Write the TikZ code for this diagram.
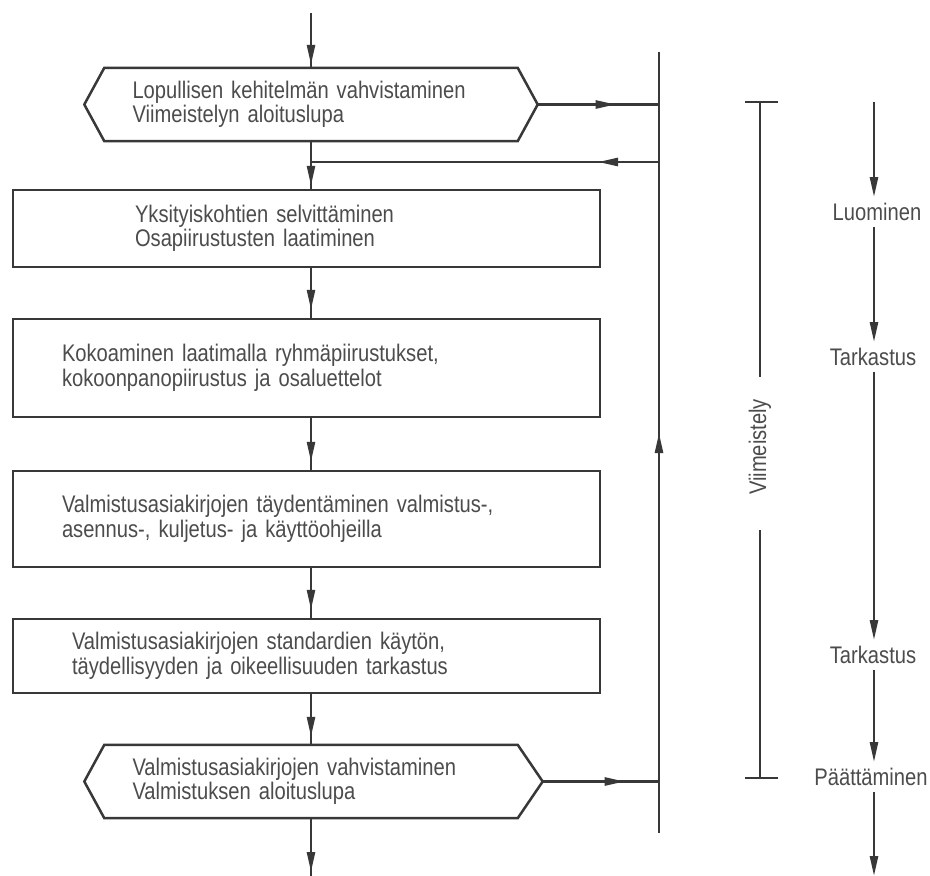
\documentclass[tikz,border=0pt]{standalone}
\usepackage{fontspec}
\setmainfont{Liberation Sans}[FakeStretch=0.84]
\usetikzlibrary{arrows.meta,decorations.markings}
\definecolor{ink}{HTML}{383838}
\definecolor{txt}{HTML}{4C4C4C}
\begin{document}
\begin{tikzpicture}[x=1pt,y=-1pt,
  line/.style={draw=ink,line width=2.5pt},
  tipat/.style={postaction={decorate},decoration={markings,
      mark=at position #1 with {\arrow[ink]{Triangle[length=20pt,width=8pt]}}}},
  endtip/.style={-{Triangle[length=20pt,width=8pt]}},
  lbl/.style={font=\fontsize{24}{24.5}\selectfont,text=txt},
  stepbox/.style={lbl,draw=ink,line width=2.5pt,rectangle,minimum width=587pt,
      align=left,inner ysep=0pt},
  hexbox/.style={lbl,rectangle,minimum width=413pt,minimum height=73pt,
      inner xsep=28pt,text width=357pt,align=left,inner ysep=0pt},
  tag/.style={lbl,inner sep=0pt,outer sep=6pt,text height=17pt,text depth=1pt}
]
\fill[white] (0,0) rectangle (930,876);
\useasboundingbox (0,0) rectangle (930,876);

% main column
\node[hexbox] (h1) at (311,104.5) {Lopullisen kehitelmän vahvistaminen\\Viimeistelyn aloituslupa};
\node[stepbox,minimum height=77pt,inner xsep=122pt,text width=343pt] (b1) at (306.5,228.5)
  {\raisebox{-5pt}{Yksityiskohtien selvittäminen}\\\raisebox{-5pt}{Osapiirustusten laatiminen}};
\node[stepbox,minimum height=98pt,inner xsep=49pt,text width=489pt] (b2) at (306.5,368)
  {Kokoaminen laatimalla ryhmäpiirustukset,\\kokoonpanopiirustus ja osaluettelot};
\node[stepbox,minimum height=96pt,inner xsep=49pt,text width=489pt] (b3) at (306.5,519)
  {Valmistusasiakirjojen täydentäminen valmistus-,\\asennus-, kuljetus- ja käyttöohjeilla};
\node[stepbox,minimum height=74pt,inner xsep=59pt,text width=469pt] (b4) at (306.5,656)
  {Valmistusasiakirjojen standardien käytön,\\täydellisyyden ja oikeellisuuden tarkastus};
\node[hexbox] (h2) at (311,781.5) {Valmistusasiakirjojen vahvistaminen\\Valmistuksen aloituslupa};

% hexagon outlines
\coordinate (h1l) at ([xshift=-20pt]h1.west);
\coordinate (h1r) at ([xshift=20pt]h1.east);
\coordinate (h2l) at ([xshift=-20pt]h2.west);
\coordinate (h2r) at ([xshift=25pt]h2.east);
\draw[line] (h1.north west) -- (h1.north east) -- (h1r) -- (h1.south east)
  -- (h1.south west) -- (h1l) -- cycle;
\draw[line] (h2.north west) -- (h2.north east) -- (h2r) -- (h2.south east)
  -- (h2.south west) -- (h2l) -- cycle;

% connectors
\coordinate (entry) at (311,13);
\coordinate (exit) at (311,876);
\coordinate (mtop) at (659,52);
\coordinate (mbot) at (659,833);
\coordinate (ret) at (659,162);
\draw[line,tipat=-3pt] (entry) -- (h1.north);
\draw[line,tipat=78pt] (h1r) -- (h1r -| mtop);
\draw[line,tipat=400pt] (mbot) -- (mtop);
\draw[line,tipat=61pt] (ret) -- (ret -| h1.south);
\draw[line,tipat=-3pt] (h1.south) -- (h1.south |- b1.north);
\draw[line,tipat=-8pt] (h1.south |- b1.south) -- (h1.south |- b2.north);
\draw[line,tipat=-8pt] (h1.south |- b2.south) -- (h1.south |- b3.north);
\draw[line,tipat=-8pt] (h1.south |- b3.south) -- (h1.south |- b4.north);
\draw[line,tipat=-8pt] (h1.south |- b4.south) -- (h2.north);
\draw[line,tipat=82pt] (h2r) -- (h2r -| mtop);
\draw[line,tipat=-4pt] (h2.south) -- (exit);

% phase bracket
\coordinate (bt) at (760,102);
\coordinate (bu) at (760,377);
\coordinate (bl) at (760,530);
\coordinate (bb) at (760,778);
\node[lbl,rotate=90,inner sep=0pt] (vm) at (760,447) {Viimeistely};
\draw[line] ([xshift=-15pt]bt) -- ([xshift=18pt]bt);
\draw[line] (bt) -- (bu);
\draw[line] (bl) -- (bb);
\draw[line] ([xshift=-15pt]bb) -- ([xshift=18pt]bb);

% activity sequence
\coordinate (rin) at (874,102);
\coordinate (rout) at (874,876);
\node[tag] (lu) at (877,212) {Luominen};
\node[tag] (t1) at (873,357) {Tarkastus};
\node[tag] (t2) at (873,655) {Tarkastus};
\node[tag] (pa) at (871,777) {Päättäminen};
\draw[line,endtip] (rin) -- (rin |- lu.north);
\draw[line,endtip] (rin |- lu.south) -- (rin |- t1.north);
\draw[line,endtip] (rin |- t1.south) -- (rin |- t2.north);
\draw[line,endtip] (rin |- t2.south) -- (rin |- pa.north);
\draw[line,endtip] (rin |- pa.south) -- (rout);
\end{tikzpicture}
\end{document}
